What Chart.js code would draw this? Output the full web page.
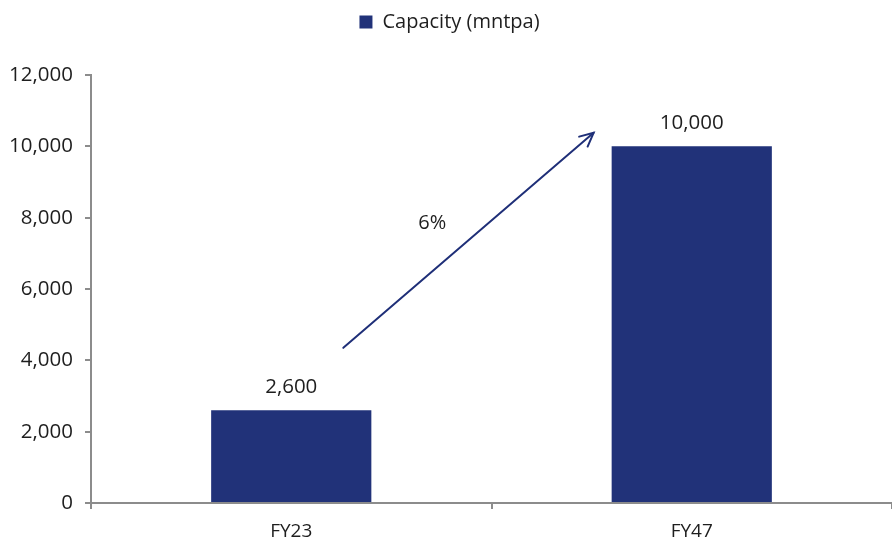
<!DOCTYPE html>
<html>
<head>
<meta charset="utf-8">
<script src="https://cdn.jsdelivr.net/npm/chart.js@4/dist/chart.umd.min.js"></script>
<style>
  html, body { margin: 0; padding: 0; background: #ffffff; }
  #wrap { width: 892px; height: 542px; }
</style>
</head>
<body>
<div id="wrap"><canvas id="c" width="892" height="542"></canvas></div>
<script>
// Capacity outlook, FY23 vs FY47
const categories = ['FY23', 'FY47'];
const capacity = [2600, 10000];
const seriesLabel = 'Capacity (mntpa)';
const yTicks = [0, 2000, 4000, 6000, 8000, 10000, 12000];
const growthLabel = '6%';
// Growth arrow in data terms: [category position, value]
const arrowFrom = [0.13, 4350];
const arrowTo = [0.755, 10380];
const growthLabelAt = [0.352, 7850];

const FONT = '"Open Sans", "DejaVu Sans", sans-serif';
const BAR = '#213279';
const AXIS = '#8c8c8c';
const TEXT = '#1e1e1e';
const LEGEND_GAP = 33; // extra room between legend and plot

const fmt = v => v.toLocaleString('en-US');

const legendGap = {
  id: 'legendGap',
  afterInit(chart) {
    const legend = chart.legend;
    if (!legend) return;
    const fit = legend.fit;
    legend.fit = function () {
      fit.call(this);
      this.height += LEGEND_GAP;
    };
  }
};

const overlay = {
  id: 'overlay',
  afterDatasetsDraw(chart) {
    const { ctx, scales: { x, y } } = chart;
    const meta = chart.getDatasetMeta(0);
    ctx.save();
    ctx.fillStyle = TEXT;
    ctx.font = '20.5px ' + FONT;
    ctx.textAlign = 'center';
    ctx.textBaseline = 'middle';
    meta.data.forEach((bar, i) => {
      ctx.fillText(fmt(capacity[i]), bar.x, bar.y - 23);
    });

    // growth arrow
    const x0 = x.getPixelForValue(arrowFrom[0]), y0 = y.getPixelForValue(arrowFrom[1]);
    const x1 = x.getPixelForValue(arrowTo[0]), y1 = y.getPixelForValue(arrowTo[1]);
    ctx.strokeStyle = '#1f2f78';
    ctx.lineWidth = 2;
    ctx.lineCap = 'round';
    ctx.beginPath();
    ctx.moveTo(x0, y0);
    ctx.lineTo(x1, y1);
    ctx.stroke();
    const ang = Math.atan2(y1 - y0, x1 - x0);
    const head = 15, spread = 0.45;
    ctx.beginPath();
    ctx.moveTo(x1 - head * Math.cos(ang - spread), y1 - head * Math.sin(ang - spread));
    ctx.lineTo(x1, y1);
    ctx.lineTo(x1 - head * Math.cos(ang + spread), y1 - head * Math.sin(ang + spread));
    ctx.stroke();

    ctx.font = '20px ' + FONT;
    ctx.fillStyle = TEXT;
    ctx.fillText(growthLabel,
      x.getPixelForValue(growthLabelAt[0]),
      y.getPixelForValue(growthLabelAt[1]));
    ctx.restore();
  }
};

new Chart(document.getElementById('c'), {
  type: 'bar',
  data: {
    labels: categories,
    datasets: [{
      label: seriesLabel,
      data: capacity,
      backgroundColor: BAR,
      borderWidth: 0,
      categoryPercentage: 0.8,
      barPercentage: 0.5
    }]
  },
  options: {
    responsive: false,
    animation: false,
    events: [],
    layout: { padding: { top: 2, right: -7, left: 0, bottom: 0 } },
    plugins: {
      legend: {
        display: true,
        position: 'top',
        labels: {
          font: { family: FONT, size: 20 },
          color: TEXT,
          boxWidth: 13,
          boxHeight: 13,
          padding: 10
        }
      },
      tooltip: { enabled: false }
    },
    scales: {
      x: {
        offset: true,
        grid: {
          offset: true,
          drawOnChartArea: false,
          drawTicks: true,
          tickLength: 6,
          color: AXIS,
          tickColor: AXIS,
          lineWidth: 2
        },
        border: { color: AXIS, width: 2 },
        ticks: {
          font: { family: FONT, size: 19 },
          color: TEXT,
          padding: 11
        },
        afterFit(scale) { scale.height = 39; }
      },
      y: {
        min: 0,
        max: 12000,
        afterBuildTicks(scale) { scale.ticks = yTicks.map(v => ({ value: v })); },
        grid: {
          drawOnChartArea: false,
          drawTicks: true,
          tickLength: 6,
          tickColor: AXIS,
          lineWidth: 2
        },
        border: { color: AXIS, width: 2 },
        ticks: {
          font: { family: FONT, size: 20.5 },
          color: TEXT,
          padding: 12,
          callback: v => fmt(v)
        },
        afterFit(scale) { scale.width = 91; }
      }
    }
  },
  plugins: [legendGap, overlay]
});
</script>
</body>
</html>
